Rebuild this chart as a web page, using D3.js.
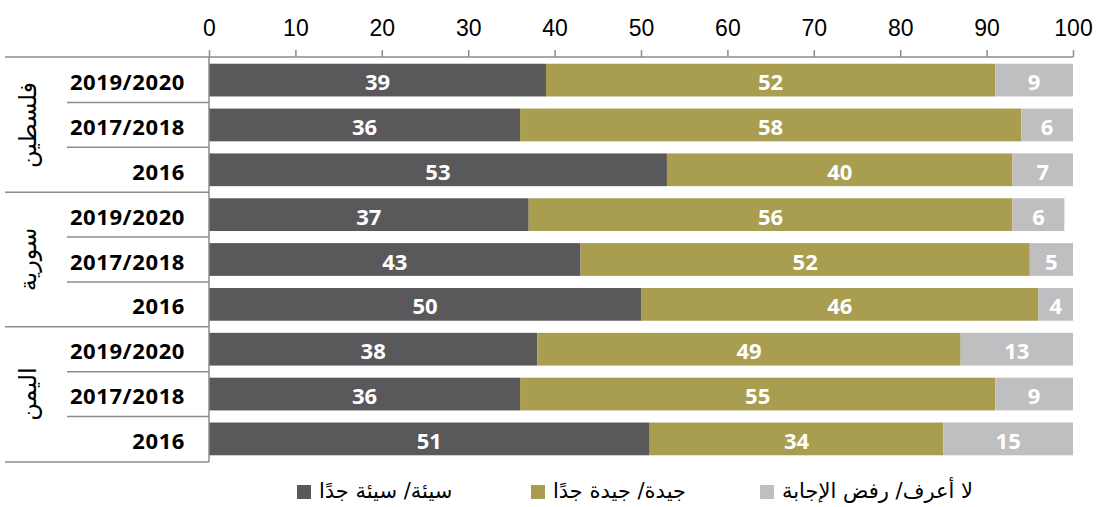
<!DOCTYPE html>
<html><head><meta charset="utf-8">
<script src="https://cdn.jsdelivr.net/npm/d3@7"></script>
<style>
body{margin:0;background:#fff;}
svg{display:block;}
</style></head>
<body>
<svg id="chart" width="1103" height="507"></svg>
<script>
const groups = ["فلسطين", "سورية", "اليمن"];
const years = ["2019/2020", "2017/2018", "2016"];
const seriesNames = ["سيئة/ سيئة جدًا", "جيدة/ جيدة جدًا", "لا أعرف/ رفض الإجابة"];
const bad  = [39, 36, 53, 37, 43, 50, 38, 36, 51];
const good = [52, 58, 40, 56, 52, 46, 49, 55, 34];
const dk   = [9, 6, 7, 6, 5, 4, 13, 9, 15];
const ticks = [0, 10, 20, 30, 40, 50, 60, 70, 80, 90, 100];
const colors = ["#59595b", "#a99e50", "#bfbfc1"];

const rows = [];
groups.forEach((g, gi) => years.forEach((yr, yi) => {
  const i = gi * years.length + yi;
  rows.push({key: g + "|" + yr, group: g, year: yr, vals: [bad[i], good[i], dk[i]]});
}));

const svg = d3.select("#chart");
const x = d3.scaleLinear().domain([0, 100]).range([209, 1073]);
const y = d3.scaleBand().domain(rows.map(r => r.key)).range([57, 462]).paddingInner(0.27).paddingOuter(0.15);
const lineColor = "#8c8c8c";

// bars
rows.forEach(r => {
  let cum = 0;
  r.vals.forEach((v, si) => {
    const x0 = cum; cum += v;
    svg.append("rect")
      .attr("x", x(x0)).attr("y", y(r.key))
      .attr("width", x(cum) - x(x0)).attr("height", y.bandwidth())
      .attr("fill", colors[si]);
    svg.append("text")
      .attr("x", (x(x0) + x(cum)) / 2).attr("y", y(r.key) + y.bandwidth() / 2 + 1)
      .attr("text-anchor", "middle").attr("dominant-baseline", "central")
      .attr("fill", "#fff").attr("font-family", "'Open Sans', sans-serif")
      .attr("font-weight", 700).attr("font-size", 22)
      .text(v);
  });
});

// top axis
const ax = svg.append("g").attr("transform", "translate(0,57)")
  .call(d3.axisTop(x).tickValues(ticks).tickSize(7).tickSizeOuter(0).tickPadding(14));
ax.select(".domain").remove();
ax.selectAll(".tick line").attr("stroke", lineColor).attr("stroke-width", 1.5);
ax.selectAll(".tick text").attr("font-family", "'Liberation Sans Narrow','Liberation Sans',sans-serif")
  .attr("font-size", 23).attr("fill", "#000");

// frame lines
svg.append("line").attr("x1", 5).attr("x2", x(100)).attr("y1", 57).attr("y2", 57)
  .attr("stroke", lineColor).attr("stroke-width", 1.5);
svg.append("line").attr("x1", x(0)).attr("x2", x(0)).attr("y1", 57).attr("y2", 462)
  .attr("stroke", lineColor).attr("stroke-width", 1.5);

const step = y.step();
rows.forEach((r, i) => {
  if (i === rows.length - 1) return;
  const ly = y(r.key) + y.bandwidth() + (step - y.bandwidth()) / 2;
  const isGroup = (i + 1) % years.length === 0;
  svg.append("line").attr("x1", isGroup ? 5 : 67).attr("x2", x(0)).attr("y1", ly).attr("y2", ly)
    .attr("stroke", lineColor).attr("stroke-width", 1.5);
});
svg.append("line").attr("x1", 5).attr("x2", x(0)).attr("y1", 462).attr("y2", 462)
  .attr("stroke", lineColor).attr("stroke-width", 1.5);

// year labels
svg.selectAll(".yr").data(rows).join("text")
  .attr("x", 185).attr("y", r => y(r.key) + y.bandwidth() / 2 + 1)
  .attr("text-anchor", "end").attr("dominant-baseline", "central")
  .attr("font-family", "'Open Sans', sans-serif").attr("font-weight", 700).attr("font-size", 22)
  .attr("letter-spacing", 0.6)
  .attr("fill", "#000").text(r => r.year);

// group labels
groups.forEach(g => {
  const gr = rows.filter(r => r.group === g);
  const cy = (y(gr[0].key) + y(gr[gr.length - 1].key) + y.bandwidth()) / 2;
  svg.append("text").attr("transform", `translate(28,${cy}) rotate(-90)`)
    .attr("text-anchor", "middle").attr("dominant-baseline", "central")
    .attr("font-family", "'DejaVu Sans', sans-serif").attr("font-size", 24)
    .attr("fill", "#000").text(g);
});

// legend
const legendX = [297, 531, 760];
seriesNames.forEach((s, i) => {
  svg.append("rect").attr("x", legendX[i]).attr("y", 485).attr("width", 14).attr("height", 14).attr("fill", colors[i]);
  svg.append("text").attr("x", legendX[i] + 22).attr("y", 491)
    .attr("text-anchor", "start").attr("dominant-baseline", "central")
    .attr("font-family", "'DejaVu Sans', sans-serif").attr("font-size", 21)
    .attr("fill", "#000").attr("direction", "ltr").text(s);
});
</script>
</body></html>
